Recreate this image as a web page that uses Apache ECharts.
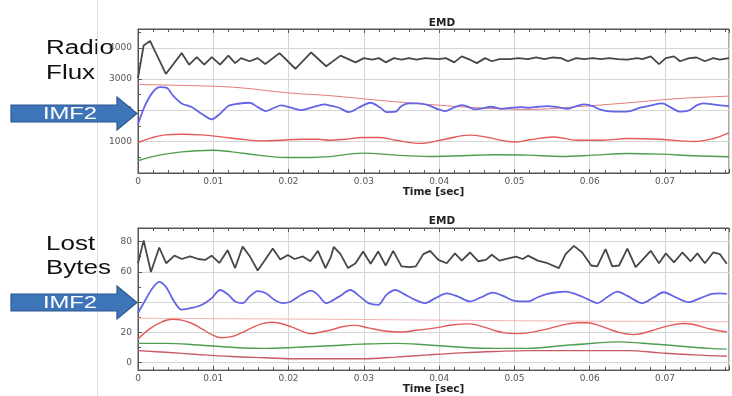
<!DOCTYPE html>
<html>
<head>
<meta charset="utf-8">
<script src="https://cdn.jsdelivr.net/npm/echarts@6/dist/echarts.min.js"></script>
<style>
  html, body { margin: 0; padding: 0; background: #fff; }
  #chart { width: 732px; height: 396px; }
</style>
</head>
<body>
<div id="chart"></div>
<script>
// time in ms

// top panel: radio flux
const fluxSignal = [[0,3040],[0.75,4070],[1.6,4220],[3.7,3165],[5.8,3830],[6.8,3460],[7.8,3700],[8.8,3460],[9.8,3700],[10.9,3460],[12.0,3750],[12.9,3510],[13.7,3670],[14.8,3570],[15.9,3670],[16.9,3480],[18.8,3830],[20.9,3330],[23.0,3850],[25.0,3410],[26.9,3750],[28.9,3535],[30.0,3670],[31.1,3620],[32.0,3670],[32.9,3535],[34.0,3670],[35.0,3620],[36.0,3670],[37.0,3620],[38.1,3670],[39.9,3640],[40.9,3670],[42.0,3535],[43.0,3725],[43.9,3640],[45.0,3510],[46.1,3670],[47.0,3570],[48.0,3640],[49.4,3640],[50.5,3670],[51.8,3640],[52.9,3690],[54.0,3640],[55.1,3690],[56.2,3670],[57.1,3570],[58.2,3670],[59.3,3640],[60.4,3670],[61.5,3640],[62.6,3670],[63.7,3640],[65.0,3620],[66.3,3670],[67.0,3640],[68.1,3725],[69.2,3480],[70.1,3670],[71.2,3725],[72.0,3570],[73.2,3670],[74.2,3690],[75.3,3570],[76.4,3670],[77.3,3620],[78.5,3670]];
const fluxImf2 = [[0,1556],[1.0,2191],[2.07,2614],[2.95,2741],[3.83,2720],[4.71,2455],[5.81,2223],[7.13,2106],[8.45,1895],[9.78,1714],[10.9,1895],[12.0,2138],[13.3,2212],[14.8,2244],[15.9,2106],[17.0,1979],[18.1,2085],[19.0,2159],[20.1,2106],[21.7,2011],[23.0,2085],[24.8,2191],[25.6,2150],[26.7,2085],[28.0,1947],[29.3,2085],[30.9,2244],[32.2,2085],[33.0,1947],[34.2,1958],[35.0,2138],[35.9,2223],[37.2,2223],[38.6,2159],[39.9,2032],[40.8,1979],[41.9,2085],[43.0,2170],[43.9,2106],[44.7,2032],[45.6,2053],[46.9,2117],[48.2,2053],[49.6,2085],[50.9,2106],[51.8,2085],[53.1,2117],[54.4,2138],[55.7,2106],[57.1,2053],[58.2,2138],[59.3,2191],[60.4,2138],[61.3,2032],[62.3,1979],[64.1,1958],[65.4,1979],[66.7,2085],[68.1,2159],[69.6,2223],[70.7,2106],[72.0,1958],[73.2,2000],[74.2,2159],[75.1,2223],[76.4,2191],[77.3,2159],[78.5,2138]];
const fluxImf3 = [[0,974],[1.9,1132],[3.6,1217],[5.8,1238],[8.4,1217],[11.1,1154],[13.7,1080],[16.4,1027],[19.0,1048],[21.7,1080],[23.9,1080],[25.5,1048],[27.6,1080],[29.8,1132],[32.0,1132],[34.2,1048],[37.5,945],[40.8,1080],[44.0,1210],[46.1,1154],[48.7,1027],[50.3,990],[52.0,1060],[55.2,1150],[58.4,1048],[61.9,1048],[65.0,1101],[69.4,1080],[73.8,1006],[76.4,1101],[78.5,1280]];
const fluxImf4 = [[0,391],[2.8,570],[5.8,676],[9.8,729],[12.5,676],[16.0,570],[19.5,497],[23.0,497],[25.5,523],[29.8,634],[34.2,570],[38.6,528],[43.0,550],[47.4,581],[51.8,570],[56.2,528],[60.6,570],[65.0,623],[69.4,602],[73.8,550],[78.5,518]];
const fluxTrend = [[0,2826],[9.8,2773],[13.7,2720],[19.9,2561],[25.5,2470],[32.2,2318],[38.6,2191],[45.1,2085],[51.8,2032],[58.4,2120],[65.0,2240],[71.6,2375],[78.5,2455]];

// bottom panel: lost bytes
const bytesSignal = [[0,65.7],[0.75,80.8],[1.72,59.9],[2.82,76.1],[3.74,65.7],[4.84,70.7],[5.81,68.5],[6.91,70.2],[8.0,68.5],[8.9,67.9],[9.78,70.7],[10.8,65.9],[11.9,74.3],[12.9,62.5],[13.9,76.7],[14.8,70.7],[15.9,60.9],[16.8,67.4],[17.9,75.4],[18.9,68.1],[19.9,71.1],[20.8,68.5],[21.9,70.2],[22.9,67.0],[23.9,73.9],[24.9,62.5],[25.6,69.6],[26.0,76.5],[26.9,71.7],[27.9,62.5],[28.9,65.7],[29.9,73.5],[30.9,65.3],[31.9,73.5],[32.9,64.2],[33.9,73.9],[35.0,63.6],[36.1,63.1],[36.9,63.6],[37.9,71.7],[38.8,73.9],[39.9,67.9],[41.0,65.7],[42.1,72.2],[43.0,67.4],[44.1,72.8],[45.2,67.0],[46.2,67.9],[47.0,71.3],[48.0,67.4],[49.2,68.9],[50.2,70.0],[51.1,68.5],[51.8,70.7],[53.1,67.4],[54.4,65.7],[55.9,62.5],[56.8,71.7],[57.9,77.2],[59.0,72.8],[60.2,64.2],[61.0,63.6],[62.1,75.0],[63.0,63.6],[63.9,64.2],[65.0,75.4],[66.1,63.1],[67.0,67.9],[68.1,73.9],[69.2,65.7],[70.1,72.2],[71.2,66.3],[72.3,72.8],[73.4,67.0],[74.3,72.2],[75.3,65.7],[76.4,72.8],[77.3,71.7],[78.2,65.3]];
const bytesImf2 = [[0,32.8],[1.0,41.5],[1.9,49.0],[2.8,53.4],[3.7,50.1],[4.8,40.4],[5.8,35.0],[7.1,36.1],[8.5,38.2],[9.8,42.6],[10.9,48.0],[12.0,44.8],[12.9,40.4],[13.9,39.3],[14.8,43.6],[15.9,47.3],[17.0,45.8],[18.1,41.5],[19.2,39.3],[20.3,40.4],[21.7,44.8],[23.0,47.6],[23.9,44.8],[25.0,39.3],[26.7,43.6],[28.2,48.0],[29.5,43.6],[30.6,39.3],[31.9,38.2],[33.0,44.8],[34.2,48.0],[35.3,45.4],[36.8,41.5],[38.1,39.3],[39.5,42.6],[41.0,45.8],[42.5,43.6],[44.1,40.4],[45.6,43.2],[47.1,46.2],[48.5,44.1],[50.0,40.8],[51.8,40.4],[53.1,43.2],[54.4,45.4],[55.7,46.5],[56.8,46.9],[58.4,44.8],[59.7,42.0],[61.0,39.3],[62.3,43.2],[63.7,46.9],[65.0,44.1],[67.0,39.3],[68.5,43.2],[69.8,46.5],[71.4,43.2],[73.1,39.9],[74.7,42.6],[76.2,45.4],[77.3,45.8],[78.2,45.4]];
const bytesImf3 = [[0,15.5],[1.4,21.8],[2.9,26.3],[4.5,28.6],[5.8,28.1],[7.1,26.0],[8.5,22.2],[9.8,18.5],[11.1,16.4],[12.4,17.1],[13.7,19.6],[15.1,22.9],[16.4,25.6],[17.7,26.7],[19.0,25.8],[20.3,23.7],[21.7,20.9],[23.0,19.1],[24.3,20.2],[25.6,21.5],[27.1,23.7],[28.9,24.6],[30.6,22.9],[32.8,20.9],[35.0,20.2],[37.2,21.5],[39.5,22.9],[41.7,24.8],[43.9,25.6],[45.2,24.6],[47.0,21.8],[48.7,19.6],[50.5,19.1],[51.8,19.6],[54.0,21.8],[56.2,24.6],[58.4,26.3],[59.7,26.3],[61.5,24.1],[63.7,20.2],[65.9,18.5],[68.1,20.9],[70.3,24.1],[72.5,25.8],[73.8,25.2],[76.0,22.2],[78.2,20.2]];
const bytesImf4 = [[0,12.7],[3.7,12.7],[8.0,11.6],[12.4,10.1],[16.8,9.4],[21.2,10.1],[25.6,11.1],[29.8,12.2],[34.2,12.7],[38.6,11.6],[43.0,10.1],[47.4,9.4],[51.8,9.4],[56.2,11.1],[60.6,12.8],[63.7,13.7],[67.0,12.8],[71.4,11.1],[75.8,9.4],[78.2,8.9]];
const bytesMean = [[0,29.3],[26,28.6],[52,27.6],[78.5,27.0]];
const bytesTrend = [[0,7.9],[3.7,6.8],[8.0,5.3],[12.4,4.0],[16.8,3.2],[21.2,2.5],[25.6,2.5],[30.0,2.5],[34.2,3.6],[38.6,5.1],[43.0,6.4],[47.4,7.3],[51.8,7.9],[60.6,7.9],[65.0,7.9],[69.4,6.4],[73.8,5.1],[78.2,4.2]];

// tick labels / text
const xTicks = [0, 0.01, 0.02, 0.03, 0.04, 0.05, 0.06, 0.07];
const panelTitles = ['EMD', 'EMD'];
const panelNames = [['Radio', 'Flux'], ['Lost', 'Bytes']];

const toSec = (arr) => arr.map(([t, v]) => [t / 1000, v]);

const font = 'DejaVu Sans';
const frame = '#555';
const grids = [
  { left: 138, top: 29, right: 0, height: 144, show: true, borderColor: frame, borderWidth: 1 },
  { left: 138, top: 228, right: 0, height: 145, show: true, borderColor: frame, borderWidth: 1 },
];

function bottomX(gi, nameGap) {
  return {
    type: 'value', gridIndex: gi, min: 0, max: 0.0785, interval: 0.01,
    name: 'Time [sec]', nameLocation: 'middle', nameGap,
    nameTextStyle: { fontFamily: font, fontWeight: 'bold', fontSize: 10.5, color: '#222' },
    axisLine: { onZero: false, lineStyle: { color: frame } },
    axisTick: { inside: true, length: 4, lineStyle: { color: frame } },
    minorTick: { show: true, splitNumber: 5, length: 3, lineStyle: { color: frame } },
    axisLabel: {
      margin: 4, fontFamily: font, fontSize: 9, color: '#555',
      formatter: (v) => (xTicks.some((t) => Math.abs(t - v) < 1e-9) ? (v === 0 ? '0' : v.toFixed(2)) : ''),
    },
    splitLine: { lineStyle: { color: '#d6d6d6' } },
  };
}

function topX(gi) {
  return {
    type: 'value', gridIndex: gi, position: 'top', min: 0, max: 0.0785, interval: 0.01,
    axisLine: { onZero: false, lineStyle: { color: frame } },
    axisTick: { inside: true, length: 4, lineStyle: { color: frame } },
    minorTick: { show: true, splitNumber: 5, length: 3, lineStyle: { color: frame } },
    axisLabel: { show: false },
    splitLine: { show: false },
  };
}

function yLabel() {
  return {
    margin: 6, fontFamily: font, fontSize: 9, color: '#555', hideOverlap: false,
    showMinLabel: false, showMaxLabel: false, formatter: (v) => String(v),
  };
}

function leftY(gi, extra) {
  return Object.assign({
    type: 'value', gridIndex: gi,
    axisLine: { show: true, onZero: false, lineStyle: { color: frame } },
    axisTick: { show: true, inside: true, length: 4, lineStyle: { color: frame } },
    minorTick: { show: true, splitNumber: 2, length: 3, lineStyle: { color: frame } },
    axisLabel: yLabel(),
    splitLine: { lineStyle: { color: '#d6d6d6' } },
  }, extra);
}

function line(name, data, xi, yi, color, width, smooth) {
  return {
    name, type: 'line', xAxisIndex: xi, yAxisIndex: yi, data: toSec(data),
    showSymbol: false, smooth, lineStyle: { color, width }, itemStyle: { color },
    animation: false, z: 3,
  };
}

function arrow(cy, label) {
  return [
    {
      type: 'polygon', z: 100,
      shape: { points: [[11, cy - 8.5], [117, cy - 8.5], [117, cy - 16.5], [137, cy], [117, cy + 16.5], [117, cy + 8.5], [11, cy + 8.5]] },
      style: { fill: '#3e74b8', stroke: '#2b5791', lineWidth: 1.2 },
    },
    {
      type: 'text', z: 101, x: 70, y: cy + 0.5, scaleX: 1.4,
      style: { text: label, fill: '#fff', font: '17px "Liberation Sans"', textAlign: 'center', textVerticalAlign: 'middle' },
    },
  ];
}

function bigText(x, y, text) {
  return {
    type: 'text', z: 0, x, y, scaleX: 1.3,
    style: { text, fill: '#111', font: '20px "Liberation Sans"', textAlign: 'left', textVerticalAlign: 'middle' },
  };
}

const option = {
  backgroundColor: '#fff',
  animation: false,
  title: [
    { text: panelTitles[0], left: 437, top: 13, textAlign: 'center', textStyle: { fontFamily: font, fontSize: 10.5, fontWeight: 'bold', color: '#222' } },
    { text: panelTitles[1], left: 437, top: 211, textAlign: 'center', textStyle: { fontFamily: font, fontSize: 10.5, fontWeight: 'bold', color: '#222' } },
  ],
  grid: grids,
  xAxis: [bottomX(0, 13), topX(0), bottomX(1, 12), topX(1)],
  yAxis: [
    leftY(0, { min: 0, max: 4600, interval: 1000 }),
    leftY(1, { min: -5, max: 89, splitNumber: 5 }),
  ],
  series: [
    line('trend', fluxTrend, 0, 0, '#e47a7a', 1, 0.4),
    line('imf4', fluxImf4, 0, 0, '#4f9e4f', 1.4, 0.4),
    line('imf3', fluxImf3, 0, 0, '#e45a5a', 1.4, 0.4),
    line('imf2', fluxImf2, 0, 0, '#6464e6', 1.8, 0.3),
    line('signal', fluxSignal, 0, 0, '#474747', 1.8, false),
    line('mean', bytesMean, 2, 1, '#f4b4b4', 1, 0.3),
    line('trend', bytesTrend, 2, 1, '#c85a64', 1.4, 0.4),
    line('imf4', bytesImf4, 2, 1, '#4f9e4f', 1.4, 0.4),
    line('imf3', bytesImf3, 2, 1, '#e45a5a', 1.4, 0.4),
    line('imf2', bytesImf2, 2, 1, '#6464e6', 1.8, 0.3),
    line('signal', bytesSignal, 2, 1, '#474747', 1.8, false),
  ],
  graphic: [
    { type: 'line', z: 50, shape: { x1: 97.5, y1: 0, x2: 97.5, y2: 396 }, style: { stroke: '#dcdcdc', lineWidth: 1 } },
    bigText(46, 48, panelNames[0][0]),
    bigText(46, 73, panelNames[0][1]),
    bigText(46, 244, panelNames[1][0]),
    bigText(46, 268, panelNames[1][1]),
    ...arrow(113.5, 'IMF2'),
    ...arrow(302.5, 'IMF2'),
  ],
};

const chart = echarts.init(document.getElementById('chart'), null, { renderer: 'canvas' });
chart.setOption(option);
</script>
</body>
</html>
